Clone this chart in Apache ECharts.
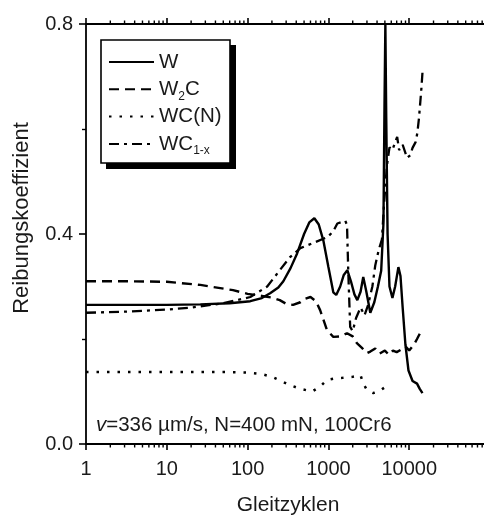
<!DOCTYPE html>
<html>
<head>
<meta charset="utf-8">
<script src="https://cdn.jsdelivr.net/npm/echarts@6/dist/echarts.min.js"></script>
<style>html,body{margin:0;padding:0;background:#fff;}#c{width:484px;height:516px;}</style>
</head>
<body>
<div id="c"></div>
<script>
// ---- data ----
const seriesNames = ['W', 'W2C', 'WC(N)', 'WC1-x'];

const cycW = [1, 3, 10, 26, 60, 108, 150, 190, 240, 277, 340, 410, 500, 580, 670, 760, 865, 1000, 1150, 1250, 1400, 1550, 1715, 1900, 2100, 2280, 2500, 2700, 2950, 3300, 3700, 4100, 4500, 4800, 4950, 5070, 5200, 5400, 5700, 6200, 6700, 7350, 7800, 8300, 8970, 9800, 11000, 12500, 13500, 14600];
const muW  = [0.265, 0.265, 0.265, 0.266, 0.268, 0.272, 0.278, 0.287, 0.298, 0.31, 0.335, 0.363, 0.40, 0.422, 0.43, 0.418, 0.388, 0.337, 0.289, 0.284, 0.30, 0.322, 0.331, 0.31, 0.285, 0.274, 0.29, 0.318, 0.29, 0.25, 0.27, 0.30, 0.33, 0.42, 0.65, 0.80, 0.62, 0.40, 0.30, 0.278, 0.30, 0.337, 0.32, 0.26, 0.19, 0.14, 0.12, 0.115, 0.105, 0.097];

const cycW2C = [1, 3, 10, 26, 66, 100, 150, 200, 250, 300, 365, 450, 520, 600, 700, 790, 960, 1150, 1400, 1700, 2000, 2250, 2600, 3000, 3300, 3800, 4300, 5000, 5600, 6300, 7000, 8000, 9000, 10000, 11500, 12500, 13500];
const muW2C  = [0.31, 0.31, 0.309, 0.303, 0.293, 0.286, 0.282, 0.279, 0.274, 0.267, 0.265, 0.27, 0.277, 0.28, 0.272, 0.255, 0.217, 0.204, 0.205, 0.211, 0.205, 0.192, 0.183, 0.173, 0.176, 0.182, 0.172, 0.178, 0.17, 0.178, 0.175, 0.18, 0.186, 0.178, 0.19, 0.2, 0.21];

const cycWCN = [1, 10, 50, 100, 150, 200, 260, 335, 450, 630, 800, 960, 1200, 1500, 2000, 2500, 2700, 3000, 3600, 4200, 5000];
const muWCN  = [0.137, 0.137, 0.137, 0.136, 0.133, 0.128, 0.12, 0.112, 0.105, 0.10, 0.11, 0.122, 0.125, 0.126, 0.128, 0.131, 0.115, 0.103, 0.097, 0.10, 0.108];

const cycWC1x = [1, 3, 10, 20, 50, 108, 175, 250, 335, 450, 650, 970, 1150, 1290, 1620, 1700, 1760, 1860, 2000, 2200, 2500, 2800, 3100, 3500, 3800, 4200, 4600, 4900, 5300, 5700, 6200, 6700, 7100, 7500, 8300, 9400, 10300, 11000, 12000, 12600, 13200, 13700, 14200, 14600];
const muWC1x  = [0.25, 0.252, 0.256, 0.26, 0.268, 0.28, 0.30, 0.331, 0.356, 0.373, 0.383, 0.394, 0.405, 0.42, 0.425, 0.417, 0.33, 0.223, 0.215, 0.24, 0.26, 0.245, 0.265, 0.30, 0.34, 0.37, 0.39, 0.46, 0.53, 0.565, 0.56, 0.575, 0.585, 0.56, 0.57, 0.545, 0.55, 0.564, 0.575, 0.592, 0.62, 0.65, 0.68, 0.708];

// axis ticks
const xDecades = [1, 10, 100, 1000, 10000];
const xMinorMultipliers = [2, 3, 4, 5, 6, 7, 8, 9];
const yTicks = [0.0, 0.4, 0.8];

const zip = (a, b) => a.map((v, i) => [v, b[i]]);
const minorVals = xDecades.flatMap(d => xMinorMultipliers.map(m => d * m));

const FONT = 'Liberation Sans, Arial, sans-serif';
const TXT = '#1a1a1a';

const chart = echarts.init(document.getElementById('c'), null, {renderer: 'canvas'});

const lineCommon = {type: 'line', showSymbol: false, symbol: 'none', animation: false, clip: true, z: 3};

chart.setOption({
  animation: false,
  backgroundColor: '#fff',
  grid: {left: 86, right: -6, top: 24, bottom: 72, containLabel: false, outerBoundsMode: 'none'},
  xAxis: [{
    type: 'log', logBase: 10, min: 1, max: 100000,
    position: 'bottom',
    axisLine: {show: true, onZero: false, lineStyle: {color: '#000', width: 1.8}},
    axisTick: {show: true, inside: false, length: 6, lineStyle: {color: '#000', width: 1.6}},
    minorTick: {show: false},
    splitLine: {show: false},
    axisLabel: {
      show: true, margin: 15, fontSize: 20, fontFamily: FONT, color: TXT,
      formatter: v => (xDecades.indexOf(v) >= 0 ? String(v) : '')
    },
    name: 'Gleitzyklen', nameLocation: 'middle', nameGap: 51,
    nameTextStyle: {fontSize: 21, fontFamily: FONT, color: TXT}
  }, {
    type: 'log', logBase: 10, min: 1, max: 100000,
    position: 'top',
    axisLine: {show: true, onZero: false, lineStyle: {color: '#000', width: 1.8}},
    axisTick: {show: true, inside: false, length: 6, lineStyle: {color: '#000', width: 1.6}},
    splitLine: {show: false},
    axisLabel: {show: false}
  }],
  yAxis: {
    type: 'value', min: 0, max: 0.8, interval: 0.4,
    axisLine: {show: true, onZero: false, lineStyle: {color: '#000', width: 1.8}},
    axisTick: {show: true, inside: false, length: 7, lineStyle: {color: '#000', width: 1.6}},
    minorTick: {show: true, splitNumber: 2, length: 4, lineStyle: {color: '#000', width: 1.4}},
    splitLine: {show: false},
    minorSplitLine: {show: false},
    axisLabel: {
      margin: 13, fontSize: 20, fontFamily: FONT, color: TXT,
      formatter: v => {
        const t = yTicks.find(k => Math.abs(k - v) < 1e-9);
        return t === undefined ? '' : t.toFixed(1);
      }
    }
  },
  legend: {
    show: true,
    orient: 'vertical',
    left: 108, top: 49,
    padding: 0,
    itemWidth: 45, itemHeight: 14, itemGap: 1.3,
    selectedMode: false,
    data: seriesNames,
    itemStyle: {opacity: 0, borderWidth: 0},
    formatter: name => {
      if (name === 'W2C') return 'W{s|2}C';
      if (name === 'WC1-x') return 'WC{s|1-x}';
      return name;
    },
    textStyle: {
      fontSize: 20.5, fontFamily: FONT, color: TXT, lineHeight: 26,
      rich: {s: {fontSize: 12, fontFamily: FONT, color: TXT, lineHeight: 6, verticalAlign: 'bottom'}}
    },
    z: 10
  },
  graphic: [
    {type: 'rect', z: 5, silent: true, shape: {x: 106, y: 45, width: 130, height: 124}, style: {fill: '#000'}},
    {type: 'rect', z: 6, silent: true, shape: {x: 101, y: 40, width: 129, height: 123}, style: {fill: '#fff', stroke: '#000', lineWidth: 1.6}},
    {type: 'text', z: 6, silent: true, x: 96, y: 425,
      style: {
        text: '{i|v}=336 µm/s, N=400 mN, 100Cr6',
        fontSize: 20.5, fontFamily: FONT, fill: TXT, verticalAlign: 'middle', align: 'left',
        rich: {i: {fontStyle: 'italic', fontSize: 20.5, fontFamily: FONT, fill: TXT}}
      }},
    {type: 'text', z: 6, silent: true, x: 22, y: 218, rotation: Math.PI / 2,
      style: {text: 'Reibungskoeffizient', fontSize: 22, fontFamily: FONT, fill: TXT, align: 'center', verticalAlign: 'middle'}}
  ],
  series: [
    Object.assign({}, lineCommon, {
      name: 'W', data: zip(cycW, muW),
      lineStyle: {color: '#000', width: 2.4, type: 'solid'}, itemStyle: {color: '#000'}
    }),
    Object.assign({}, lineCommon, {
      name: 'W2C', data: zip(cycW2C, muW2C),
      lineStyle: {color: '#000', width: 2.4, type: [10, 6]}, itemStyle: {color: '#000'}
    }),
    Object.assign({}, lineCommon, {
      name: 'WC(N)', data: zip(cycWCN, muWCN),
      lineStyle: {color: '#000', width: 2.5, type: [2.5, 8]}, itemStyle: {color: '#000'}
    }),
    Object.assign({}, lineCommon, {
      name: 'WC1-x', data: zip(cycWC1x, muWC1x),
      lineStyle: {color: '#000', width: 2.3, type: [10, 5, 3, 5]}, itemStyle: {color: '#000'}
    }),
    {
      type: 'custom', name: 'minorTicks', silent: true, animation: false, z: 4,
      coordinateSystem: 'cartesian2d',
      data: minorVals.map(v => [v, 0]),
      encode: {x: 0, y: 1},
      renderItem: (params, api) => {
        const v = api.value(0);
        const b = api.coord([v, 0]);
        const t = api.coord([v, 0.8]);
        const st = {stroke: '#000', lineWidth: 1.4};
        return {type: 'group', children: [
          {type: 'line', shape: {x1: b[0], y1: b[1], x2: b[0], y2: b[1] + 3.5}, style: st},
          {type: 'line', shape: {x1: t[0], y1: t[1], x2: t[0], y2: t[1] - 3.5}, style: st}
        ]};
      }
    }
  ]
});
</script>
</body>
</html>
